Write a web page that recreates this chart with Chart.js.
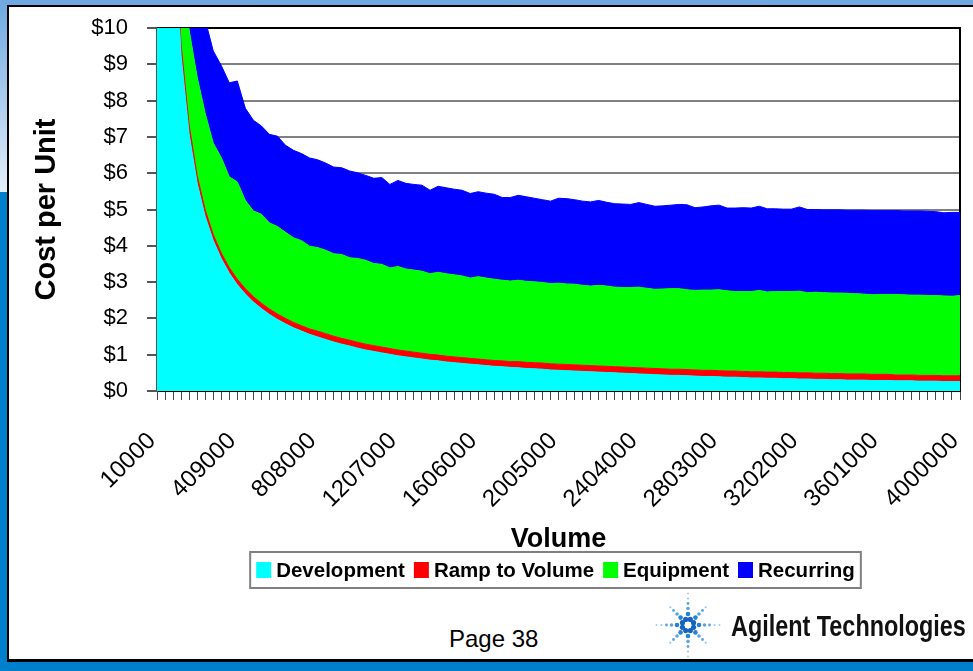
<!DOCTYPE html>
<html>
<head>
<meta charset="utf-8">
<script src="https://cdn.jsdelivr.net/npm/chart.js@4.4.1/dist/chart.umd.min.js"></script>
<style>
  html, body { margin: 0; padding: 0; }
  #page { position: relative; width: 973px; height: 671px; overflow: hidden; background: #0080cc; font-family: Arial, "Liberation Sans", Helvetica, sans-serif; }
  #topband { position: absolute; left: 0; top: 0; width: 973px; height: 192px; background: linear-gradient(#6ea8e0, #a9caee 50%, #e6effa); }
  #panel { position: absolute; left: 7px; top: 5px; width: 990px; height: 652px; background: #fff; border-left: 2px solid #000; border-top: 2px solid #000; border-bottom: 3px solid #000; }
  #chart { position: absolute; left: 0; top: 0; }
  #pageno { position: absolute; left: 449px; top: 627px; font-size: 24px; line-height: 24px; color: #000; }
  #logo { position: absolute; left: 653px; top: 590px; }
  #brand { position: absolute; left: 731px; top: 611px; font-size: 30px; line-height: 30px; font-weight: bold; color: #111; transform: scaleX(0.78); transform-origin: left top; white-space: nowrap; }
</style>
</head>
<body>
<div id="page">
  <div id="topband"></div>
  <div id="panel"></div>
  <canvas id="chart" width="973" height="600"></canvas>
  <div id="pageno">Page 38</div>
  <svg id="logo" width="70" height="70" viewBox="0 0 70 70"></svg>
  <div id="brand">Agilent Technologies</div>
</div>
<script>
// Production volume (units) on the category axis
const volumes = [
  10000, 49900, 89800, 129700, 169600, 209500, 249400, 289300, 329200, 369100,
  409000, 448900, 488800, 528700, 568600, 608500, 648400, 688300, 728200, 768100,
  808000, 847900, 887800, 927700, 967600, 1007500, 1047400, 1087300, 1127200, 1167100,
  1207000, 1246900, 1286800, 1326700, 1366600, 1406500, 1446400, 1486300, 1526200, 1566100,
  1606000, 1645900, 1685800, 1725700, 1765600, 1805500, 1845400, 1885300, 1925200, 1965100,
  2005000, 2044900, 2084800, 2124700, 2164600, 2204500, 2244400, 2284300, 2324200, 2364100,
  2404000, 2443900, 2483800, 2523700, 2563600, 2603500, 2643400, 2683300, 2723200, 2763100,
  2803000, 2842900, 2882800, 2922700, 2962600, 3002500, 3042400, 3082300, 3122200, 3162100,
  3202000, 3241900, 3281800, 3321700, 3361600, 3401500, 3441400, 3481300, 3521200, 3561100,
  3601000, 3640900, 3680800, 3720700, 3760600, 3800500, 3840400, 3880300, 3920200, 3960100,
  4000000
];

// Cost per unit ($) by component
const development = [
  120.0, 24.05, 13.36, 9.25, 7.08, 5.73, 4.81, 4.15, 3.65, 3.25,
  2.93, 2.67, 2.45, 2.27, 2.11, 1.97, 1.85, 1.74, 1.65, 1.56,
  1.49, 1.42, 1.35, 1.29, 1.24, 1.18, 1.13, 1.09, 1.05, 1.01,
  0.97, 0.94, 0.91, 0.88, 0.85, 0.83, 0.80, 0.78, 0.76, 0.74,
  0.72, 0.70, 0.68, 0.67, 0.65, 0.64, 0.62, 0.61, 0.60, 0.58,
  0.57, 0.56, 0.55, 0.54, 0.53, 0.52, 0.51, 0.50, 0.49, 0.48,
  0.47, 0.46, 0.45, 0.44, 0.43, 0.43, 0.42, 0.41, 0.40, 0.40,
  0.39, 0.38, 0.38, 0.37, 0.36, 0.36, 0.35, 0.35, 0.34, 0.34,
  0.33, 0.33, 0.32, 0.32, 0.31, 0.31, 0.30, 0.30, 0.30, 0.29,
  0.29, 0.29, 0.28, 0.28, 0.28, 0.27, 0.27, 0.27, 0.26, 0.26,
  0.26
];

const rampToVolume = [
  2.00, 0.60, 0.40, 0.30, 0.25, 0.20, 0.18, 0.16, 0.15, 0.15,
  0.15, 0.15, 0.15, 0.15, 0.15, 0.15, 0.15, 0.15, 0.15, 0.15,
  0.16, 0.16, 0.16, 0.16, 0.16, 0.16, 0.16, 0.16, 0.16, 0.16,
  0.16, 0.16, 0.16, 0.16, 0.16, 0.16, 0.16, 0.16, 0.16, 0.16,
  0.16, 0.16, 0.16, 0.16, 0.16, 0.17, 0.17, 0.17, 0.17, 0.17,
  0.17, 0.17, 0.17, 0.17, 0.17, 0.17, 0.17, 0.17, 0.17, 0.17,
  0.17, 0.17, 0.17, 0.17, 0.17, 0.17, 0.17, 0.17, 0.17, 0.17,
  0.17, 0.17, 0.17, 0.17, 0.17, 0.17, 0.17, 0.17, 0.17, 0.17,
  0.17, 0.17, 0.17, 0.17, 0.17, 0.17, 0.17, 0.17, 0.17, 0.17,
  0.17, 0.17, 0.16, 0.16, 0.16, 0.16, 0.16, 0.16, 0.16, 0.16,
  0.16
];

const equipment = [
  4.00, 3.20, 2.90, 2.75, 2.62, 2.72, 2.66, 2.52, 2.63, 2.50,
  2.68, 2.43, 2.36, 2.45, 2.37, 2.41, 2.37, 2.33, 2.34, 2.28,
  2.30, 2.30, 2.27, 2.31, 2.27, 2.31, 2.31, 2.26, 2.28, 2.22,
  2.30, 2.26, 2.26, 2.26, 2.22, 2.28, 2.27, 2.26, 2.25, 2.21,
  2.27, 2.25, 2.24, 2.22, 2.22, 2.24, 2.23, 2.23, 2.22, 2.21,
  2.23, 2.22, 2.22, 2.20, 2.19, 2.22, 2.21, 2.19, 2.19, 2.20,
  2.22, 2.20, 2.18, 2.20, 2.22, 2.22, 2.20, 2.19, 2.21, 2.21,
  2.23, 2.21, 2.19, 2.20, 2.21, 2.24, 2.21, 2.22, 2.23, 2.23,
  2.25, 2.21, 2.23, 2.22, 2.22, 2.22, 2.22, 2.21, 2.20, 2.19,
  2.20, 2.20, 2.22, 2.21, 2.20, 2.21, 2.20, 2.20, 2.20, 2.19,
  2.21
];

const recurring = [
  2.60, 2.60, 2.60, 2.60, 2.60, 2.60, 2.58, 2.54, 2.54, 2.59,
  2.78, 2.54, 2.50, 2.43, 2.44, 2.49, 2.40, 2.41, 2.40, 2.43,
  2.42, 2.40, 2.39, 2.39, 2.39, 2.36, 2.34, 2.35, 2.39, 2.30,
  2.37, 2.36, 2.36, 2.37, 2.30, 2.37, 2.37, 2.36, 2.36, 2.33,
  2.34, 2.34, 2.34, 2.28, 2.30, 2.34, 2.33, 2.30, 2.28, 2.27,
  2.34, 2.35, 2.33, 2.32, 2.32, 2.34, 2.31, 2.30, 2.30, 2.29,
  2.33, 2.31, 2.29, 2.29, 2.30, 2.32, 2.34, 2.28, 2.29, 2.32,
  2.33, 2.28, 2.30, 2.31, 2.30, 2.32, 2.29, 2.28, 2.27, 2.27,
  2.32, 2.29, 2.28, 2.28, 2.29, 2.29, 2.29, 2.30, 2.31, 2.32,
  2.31, 2.31, 2.31, 2.31, 2.32, 2.32, 2.32, 2.31, 2.29, 2.31,
  2.29
];

// Value-axis bounds and labelled-category spacing
const costMin = 0;
const costMax = 10;
const costStep = 1;
const labelEvery = 10;

const FONT = 'Arial, "Liberation Sans", Helvetica, sans-serif';
Chart.defaults.font.family = FONT;
Chart.defaults.color = '#000';

// Black frame on top and right of the plot, drawn under the areas
const plotFrame = {
  id: 'plotFrame',
  beforeDatasetsDraw(chart) {
    const { ctx, chartArea: a } = chart;
    ctx.save();
    ctx.strokeStyle = '#000';
    ctx.lineWidth = 2;
    ctx.beginPath();
    ctx.moveTo(a.left, a.top);
    ctx.lineTo(a.right, a.top);
    ctx.lineTo(a.right, a.bottom);
    ctx.stroke();
    ctx.restore();
  }
};

// Boxed legend, centred under the plot area
const boxedLegend = {
  id: 'boxedLegend',
  afterDraw(chart) {
    const { ctx, chartArea: a } = chart;
    const ds = chart.data.datasets;
    ctx.save();
    ctx.font = 'bold 20.5px ' + FONT;
    const sw = 15, sh = 16, gapSwatch = 5, gapItem = 9, padX = 6;
    const widths = ds.map(d => ctx.measureText(d.label).width);
    const inner = widths.reduce((s, w) => s + sw + gapSwatch + w, 0) + gapItem * (ds.length - 1);
    const total = inner + padX * 2;
    const top = chart.scales.x.bottom - 4;
    const h = 36;
    const left = (a.left + a.right) / 2 - 3 - total / 2;
    ctx.fillStyle = '#fff';
    ctx.fillRect(left, top, total, h);
    ctx.strokeStyle = '#808080';
    ctx.lineWidth = 2;
    ctx.strokeRect(left, top, total, h);
    let x = left + padX;
    const cy = top + h / 2;
    ds.forEach((d, i) => {
      ctx.fillStyle = d.backgroundColor;
      ctx.fillRect(x, cy - sh / 2, sw, sh);
      x += sw + gapSwatch;
      ctx.fillStyle = '#000';
      ctx.textBaseline = 'middle';
      ctx.textAlign = 'left';
      ctx.fillText(d.label, x, cy + 1);
      x += widths[i] + gapItem;
    });
    ctx.restore();
  }
};

function areaSet(label, data, color, fill) {
  return {
    label, data, fill,
    backgroundColor: color,
    borderColor: color,
    borderWidth: 1,
    pointRadius: 0,
    tension: 0
  };
}

function noEdgePadding(scale) {
  scale.paddingLeft = 0;
  scale.paddingRight = 0;
  scale.paddingTop = 0;
  scale.paddingBottom = 0;
}

new Chart(document.getElementById('chart'), {
  type: 'line',
  data: {
    labels: volumes,
    datasets: [
      areaSet('Development', development, '#00ffff', 'origin'),
      areaSet('Ramp to Volume', rampToVolume, '#ff0000', '-1'),
      areaSet('Equipment', equipment, '#00ff00', '-1'),
      areaSet('Recurring', recurring, '#0000ff', '-1')
    ]
  },
  options: {
    responsive: false,
    animation: false,
    devicePixelRatio: 1,
    layout: { padding: { left: 0, right: 13, top: 28, bottom: 44 } },
    plugins: { legend: { display: false }, tooltip: { enabled: false } },
    scales: {
      x: {
        type: 'category',
        offset: false,
        grid: { drawOnChartArea: false, offset: false, tickLength: 9, color: '#444', lineWidth: 1 },
        border: { color: '#000', width: 2 },
        ticks: {
          autoSkip: false,
          maxRotation: 45,
          minRotation: 45,
          padding: 27,
          labelOffset: -5,
          font: { size: 24 },
          color: '#000',
          callback(value, index) {
            return index % labelEvery === 0 ? this.getLabelForValue(value) : '';
          }
        },
        title: { display: true, text: 'Volume', font: { size: 27, weight: 'bold' }, color: '#000', padding: { top: 0, bottom: 0 } },
        afterFit(scale) { scale.height = 165; noEdgePadding(scale); }
      },
      y: {
        stacked: true,
        min: costMin,
        max: costMax,
        ticks: { stepSize: costStep, padding: 19, font: { size: 22 }, color: '#000', callback: v => '$' + v },
        grid: {
          color: c => (c.tick && c.tick.value === costMax) ? '#000' : '#808080',
          lineWidth: 2,
          tickLength: 10,
          tickColor: '#555'
        },
        border: { color: '#555', width: 2 },
        title: { display: true, text: 'Cost per Unit', font: { size: 29, weight: 'bold' }, color: '#000', padding: { top: 30, bottom: 0 } },
        afterFit(scale) { scale.width = 157; noEdgePadding(scale); }
      }
    }
  },
  plugins: [plotFrame, boxedLegend]
});

// Starburst logo mark
(function () {
  const svg = document.getElementById('logo');
  const ns = 'http://www.w3.org/2000/svg';
  const c = 35;
  function dot(x, y, r, fill) {
    const e = document.createElementNS(ns, 'circle');
    e.setAttribute('cx', x); e.setAttribute('cy', y); e.setAttribute('r', r); e.setAttribute('fill', fill);
    svg.appendChild(e);
  }
  for (let k = 0; k < 8; k++) {
    const ang = k * Math.PI / 4;
    const axial = k % 2 === 0;
    const radii = axial ? [11, 16.5, 21.5, 26.5, 31.5] : [10.5, 15.5, 20.5, 25];
    const sizes = [2.3, 1.8, 1.4, 1.1, 0.9];
    radii.forEach((r, j) => {
      const col = j < 1 ? '#2a7fd0' : (j < 3 ? '#5aa2e2' : '#9cc8ef');
      dot(c + r * Math.cos(ang), c + r * Math.sin(ang), sizes[j], col);
    });
    const a2 = ang + Math.PI / 8;
    dot(c + 6 * Math.cos(a2), c + 6 * Math.sin(a2), 2.6, '#1565c0');
  }
})();
</script>
</body>
</html>
